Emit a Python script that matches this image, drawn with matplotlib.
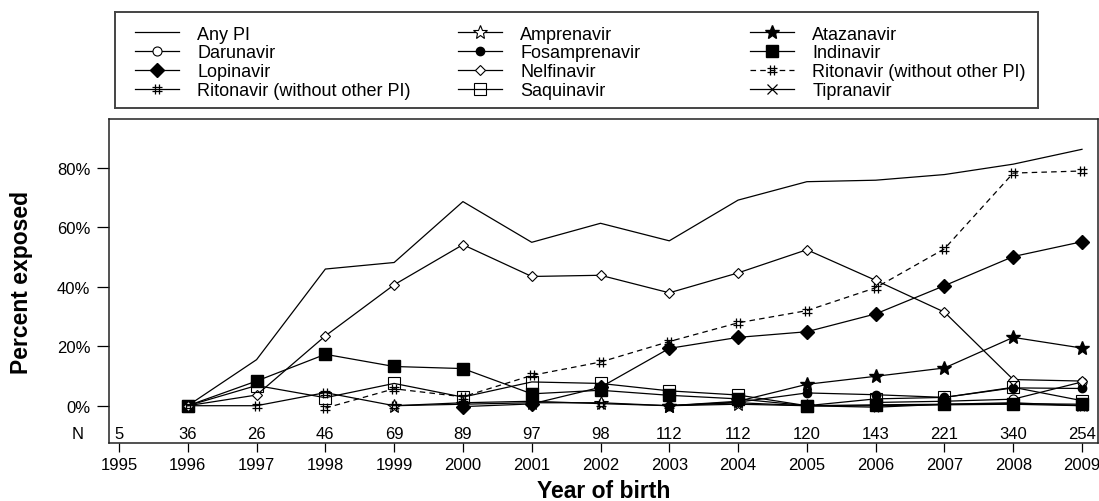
import numpy as np
import matplotlib
matplotlib.use("Agg")
import matplotlib.pyplot as plt
from matplotlib.path import Path
from matplotlib.legend import Legend

plt.rcParams['font.family'] = ['Liberation Sans', 'DejaVu Sans']
plt.rcParams['lines.scale_dashes'] = False

nan = np.nan
years = list(range(1995, 2010))
n_counts = [5, 36, 26, 46, 69, 89, 97, 98, 112, 112, 120, 143, 221, 340, 254]

any_pi        = [nan, 0, 15.5, 46.0, 48.2, 68.7, 55.0, 61.4, 55.5, 69.2, 75.4, 75.9, 77.8, 81.3, 86.3]
amprenavir    = [nan, nan, nan, nan, 0.0, 0.5, 1.0, 1.0, 0.0, 0.5, 0.0, nan, nan, nan, nan]
atazanavir    = [nan, nan, nan, nan, nan, nan, nan, nan, 0.0, 1.5, 7.2, 9.9, 12.7, 23.0, 19.4]
darunavir     = [nan, nan, nan, nan, nan, nan, nan, nan, nan, nan, nan, 1.1, 1.5, 2.2, 8.0]
fosamprenavir = [nan, nan, nan, nan, nan, nan, nan, nan, 0.0, 1.2, 4.3, 3.7, 2.8, 6.0, 5.8]
indinavir     = [nan, 0, 8.3, 17.3, 13.2, 12.5, 4.0, 5.2, 3.5, 2.3, 0.0, 0.3, 0.5, 0.7, 0.5]
lopinavir     = [nan, nan, nan, nan, nan, -0.3, 0.6, 6.2, 19.3, 23.0, 24.9, 30.9, 40.4, 50.2, 55.2]
nelfinavir    = [nan, 0, 3.6, 23.5, 40.7, 54.2, 43.5, 43.9, 38.0, 44.7, 52.5, 42.2, 31.5, 8.8, 8.3]
ritonavir_b   = [nan, nan, nan, -0.8, 5.7, 3.0, 10.2, 14.7, 21.6, 27.9, 32.0, 39.7, 52.8, 78.3, 79.0]
ritonavir_a   = [nan, 0, 0.0, 4.4, 0.0, 1.0, 1.5, 0.7, 0.0, 1.0, 0.0, -0.5, 0.5, 1.0, 0.0]
saquinavir    = [nan, 0, 6.8, 2.7, 7.5, 2.9, 8.0, 7.5, 5.0, 3.6, 0.0, 2.3, 2.8, 6.2, 1.7]
tipranavir    = [nan, nan, nan, nan, nan, nan, nan, nan, nan, nan, 0.0, 0.0, 0.3, 0.5, 0.0]

hash_marker = Path(
    [(-0.2, -0.5), (-0.2, 0.5), (0.2, -0.5), (0.2, 0.5),
     (-0.45, -0.17), (0.45, -0.17), (-0.45, 0.17), (0.45, 0.17)],
    [Path.MOVETO, Path.LINETO] * 4)

W, H = 1099, 502
fig = plt.figure(figsize=(W / 100, H / 100), dpi=100)

ax_l, ax_r, ax_b, ax_t = 109, 1097.7, 444, 120
ax = fig.add_axes([ax_l / W, 1 - ax_b / H, (ax_r - ax_l) / W, (ax_b - ax_t) / H])

lw = 0.9
k = 'black'
series = [
    ("Any PI", any_pi, dict(marker=None, ls='-')),
    ("Amprenavir", amprenavir, dict(marker='*', ms=10, mfc='white', mec=k, mew=0.8)),
    ("Atazanavir", atazanavir, dict(marker='*', ms=10, mfc=k, mec=k)),
    ("Darunavir", darunavir, dict(marker='o', ms=6.5, mfc='white', mec=k, mew=0.8)),
    ("Fosamprenavir", fosamprenavir, dict(marker='o', ms=6, mfc=k, mec=k)),
    ("Indinavir", indinavir, dict(marker='s', ms=9, mfc=k, mec=k)),
    ("Lopinavir", lopinavir, dict(marker='D', ms=7, mfc=k, mec=k)),
    ("Nelfinavir", nelfinavir, dict(marker='D', ms=5, mfc='white', mec=k, mew=0.8)),
    ("Ritonavir (without other PI)", ritonavir_b, dict(marker=hash_marker, ms=7.5, mec=k, mew=0.9, dashes=(4, 3))),
    ("Ritonavir (without other PI)", ritonavir_a, dict(marker=hash_marker, ms=7.5, mec=k, mew=0.9)),
    ("Saquinavir", saquinavir, dict(marker='s', ms=8, mfc='none', mec=k, mew=0.8)),
    ("Tipranavir", tipranavir, dict(marker='x', ms=7, mec=k, mew=0.9)),
]

hs = []
for label, vals, st in series:
    st = dict(st)
    ls = st.pop('ls', '-')
    dashes = st.pop('dashes', None)
    kw = dict(color=k, lw=lw, **st)
    if dashes is not None:
        kw['dashes'] = dashes
    else:
        kw['ls'] = ls
    h, = ax.plot(years, vals, **kw)
    hs.append(h)

ax.set_xlim(1995 - 10 / 68.8, 2009 + 15.7 / 68.8)
ax.set_ylim(-12.55, 96.5)
ax.set_xticks(years)
ax.set_xticklabels([str(y) for y in years])
ax.set_yticks([0, 20, 40, 60, 80])
ax.set_yticklabels(["0%", "20%", "40%", "60%", "80%"])
ax.tick_params(axis='x', direction='out', length=6.2, width=0.9, pad=4.2, labelsize=12)
ax.tick_params(axis='y', direction='out', length=8.4, width=0.9, pad=5, labelsize=12)
for sp in ax.spines.values():
    sp.set_linewidth(1.1)
    sp.set_color('#222222')

for y, n in zip(years, n_counts):
    ax.text(y, -9.2, str(n), ha='center', va='center', fontsize=12)
ax.text(-0.0314, -9.2, "N", transform=ax.get_yaxis_transform(), ha='center', va='center', fontsize=12)

ax.set_ylabel("Percent exposed", fontsize=16.5, fontweight='bold')
ax.yaxis.label.set_va('center')
ax.yaxis.set_label_coords((21.7 - ax_l) / (ax_r - ax_l), 0.5)
ax.set_xlabel("Year of birth", fontsize=16.5, fontweight='bold')
ax.xaxis.label.set_va('center')
ax.xaxis.set_label_coords(0.5, (ax_b - 492) / (ax_b - ax_t))

# legend box
lg_l, lg_r, lg_t, lg_b = 115, 1037.7, 13, 109
lax = fig.add_axes([lg_l / W, 1 - lg_b / H, (lg_r - lg_l) / W, (lg_b - lg_t) / H])
lax.set_xticks([]); lax.set_yticks([])
lax.patch.set_alpha(0)
for sp in lax.spines.values():
    sp.set_linewidth(1.4)
    sp.set_color('#444444')

col_items = [[0, 3, 6, 9], [1, 4, 7, 10], [2, 5, 8, 11]]
col_x = [135, 458, 750]
fs = 13
for cx, idxs in zip(col_x, col_items):
    leg = Legend(lax, [hs[i] for i in idxs], [series[i][0] for i in idxs],
                 loc='upper left',
                 bbox_to_anchor=((cx - lg_l) / (lg_r - lg_l), 1 - 13.5 / (lg_b - lg_t)),
                 frameon=False, fontsize=fs, handlelength=2.45, handletextpad=1.0,
                 labelspacing=0.1, borderpad=0, borderaxespad=0)
    lax.add_artist(leg)

fig.savefig("out.png", dpi=100)
